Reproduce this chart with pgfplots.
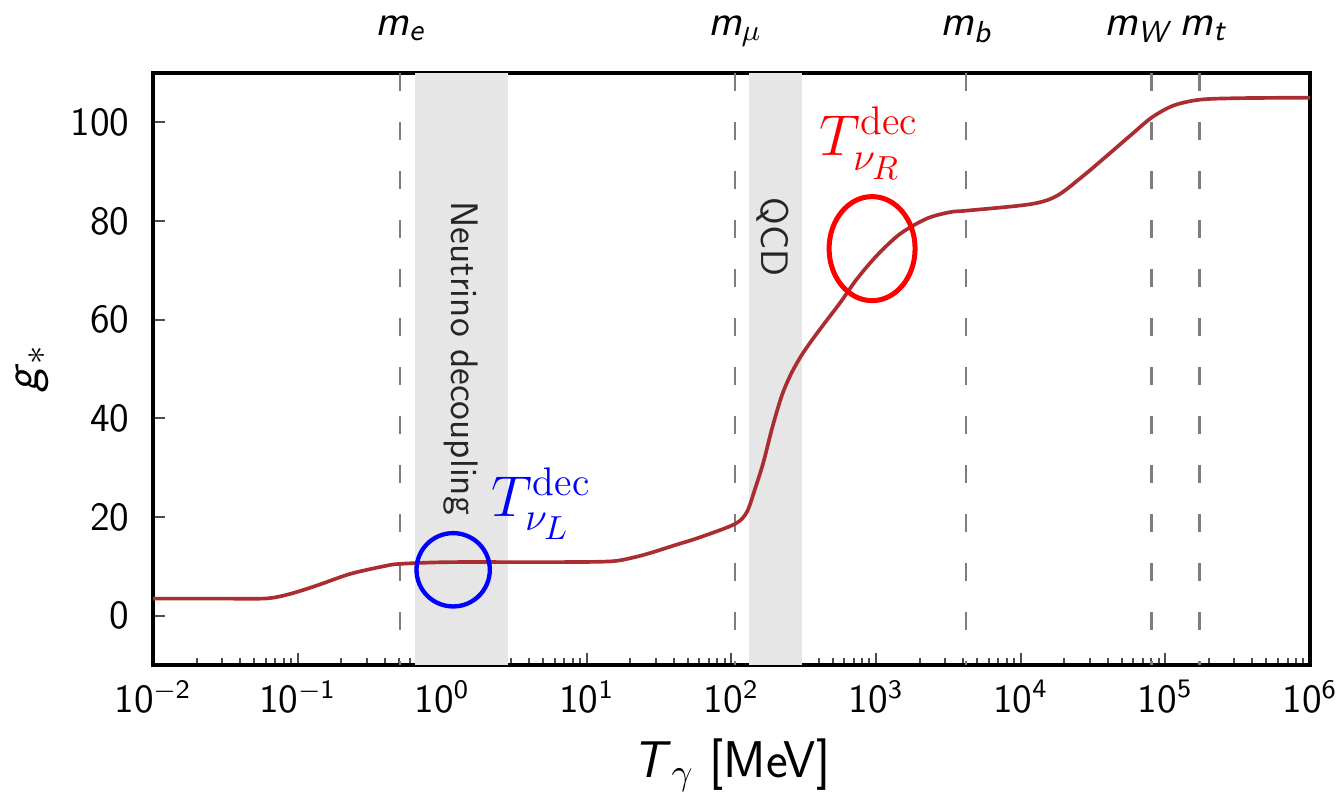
\documentclass[border=0pt]{standalone}
\usepackage{amsmath}
\usepackage{fontspec}
\usepackage{pgfplots}
\pgfplotsset{compat=1.18}

\definecolor{curvered}{RGB}{170,45,50}
\definecolor{bandgray}{RGB}{230,230,230}
\definecolor{massgray}{RGB}{125,125,125}

% effective relativistic degrees of freedom g_* versus photon temperature
\pgfplotstableread{
T        g
0.01     3.45
0.0316   3.45
0.0611   3.50
0.0885   4.4
0.1355   6.1
0.230    8.45
0.392    10.0
0.511    10.5
1.13     10.85
5.57     10.85
14.45    11.0
21.0     11.8
27.4     12.7
39.8     14.2
60.7     15.9
105.9    18.6
127.6    21.0
145.5    25.7
166.3    31.1
190.1    37.8
222.8    44.6
261.2    49.3
314.8    53.4
410.2    58.1
566.2    63.5
734.5    68.2
1012     73.0
1466     77.4
2244     80.5
3251     81.8
4236     82.1
11610    83.4
17780    85.1
27160    89.2
39360    93.2
57150    97.3
80720    101.0
113800   103.4
174200   104.6
329600   104.9
1000000  105.0
}\gstar

\newcommand{\ms}[1]{\textsf{\itshape m}$_{\textsf{\itshape #1}}$}

\begin{document}
\begin{tikzpicture}
\begin{axis}[
  name=ax,
  scale only axis,
  width=347.1pt, height=177.6pt,
  xmode=log,
  xmin=1e-2, xmax=1e6,
  ymin=-10, ymax=110,
  clip=false,
  axis line style={line width=1pt},
  tick align=inside,
  xtick pos=bottom, ytick pos=left,
  major tick length=3.5pt, minor tick length=2pt,
  every tick/.style={black!70, line width=0.6pt},
  xtick={1e-2,1e-1,1,1e1,1e2,1e3,1e4,1e5,1e6},
  xticklabels={$\mathsf{10^{-2}}$,$\mathsf{10^{-1}}$,$\mathsf{10^{0}}$,$\mathsf{10^{1}}$,$\mathsf{10^{2}}$,$\mathsf{10^{3}}$,$\mathsf{10^{4}}$,$\mathsf{10^{5}}$,$\mathsf{10^{6}}$},
  ytick={0,20,40,60,80,100},
  yticklabels={$\mathsf{0}$,$\mathsf{20}$,$\mathsf{40}$,$\mathsf{60}$,$\mathsf{80}$,$\mathsf{100}$},
  tick label style={font=\fontsize{12}{14}\selectfont},
  yticklabel style={xshift=-3.5pt},
  xticklabel style={yshift=-1pt},
  xlabel={\textsf{\itshape T}$_{\gamma}$\ \textsf{[MeV]}},
  xlabel style={font=\fontsize{15.5}{18}\selectfont, at={(axis description cs:0.5,0)}, anchor=center, yshift=-30pt},
  ylabel={\textsf{\itshape g}$_{*}$},
  ylabel style={font=\fontsize{15}{18}\selectfont, at={(axis description cs:0,0.5)}, anchor=center, yshift=36.3pt},
]
% shaded epochs
\addplot[draw=none, fill=bandgray] coordinates {(0.648,-10) (2.83,-10) (2.83,110) (0.648,110)} -- cycle;
\addplot[draw=none, fill=bandgray] coordinates {(133,-10) (309,-10) (309,110) (133,110)} -- cycle;

% particle mass thresholds
\pgfplotsinvokeforeach{0.511,105.7,4180,80400,173000}{
  \addplot[massgray, line width=0.8pt, dash pattern=on 5.4pt off 9.3pt] coordinates {(#1,110) (#1,-10)};
}

\node[rotate=-90, font=\sffamily\fontsize{11.5}{13}\selectfont, text=black!85] at (axis cs:1.35,52.2) {Neutrino decoupling};
\node[rotate=-90, font=\sffamily\fontsize{11.5}{13}\selectfont, text=black!85] at (axis cs:194,76.8) {QCD};

% g_* curve
\addplot[curvered, line width=1.1pt, smooth, tension=0.5] table[x=T, y=g] {\gstar};

% decoupling markers
\addplot[only marks, mark=o, mark size=11pt, mark options={draw=blue, line width=1.3pt}] coordinates {(1.19,9.3)};
\addplot[only marks, mark=o, mark size=12.9pt, mark options={draw=red, line width=1.5pt, yscale=1.21}] coordinates {(938,74.4)};

\node[anchor=base west, text=blue, font=\fontsize{17.28}{20}\selectfont] at (axis cs:1.83,20.2) {$T^{\mathrm{dec}}_{\nu_L}$};
\node[anchor=base west, text=red, font=\fontsize{17.28}{20}\selectfont] at (axis cs:339,93.2) {$T^{\mathrm{dec}}_{\nu_R}$};

% mass labels above the frame
\begin{scope}[font=\fontsize{13}{16}\selectfont]
\node[anchor=base, yshift=11.4pt] at (axis cs:0.511,110) {\ms{e}};
\node[anchor=base, yshift=11.4pt] at (axis cs:105.7,110) {\textsf{\itshape m}$_{\mu}$};
\node[anchor=base, yshift=11.4pt] at (axis cs:4180,110) {\ms{b}};
\node[anchor=base, yshift=11.4pt, xshift=-4.5pt] at (axis cs:80400,110) {\ms{W}};
\node[anchor=base, yshift=11.4pt, xshift=1pt] at (axis cs:173000,110) {\ms{t}};
\end{scope}
\end{axis}
\pgfresetboundingbox
\path ([xshift=-45.9pt, yshift=-39pt]ax.south west) rectangle ([xshift=9.6pt, yshift=21.9pt]ax.north east);
\end{tikzpicture}
\end{document}
